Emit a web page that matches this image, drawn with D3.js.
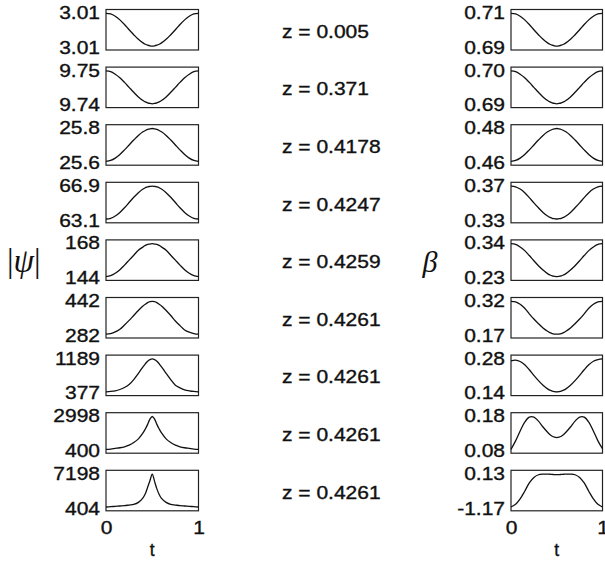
<!DOCTYPE html>
<html lang="en">
<head>
<meta charset="utf-8">
<title>|psi| and beta profiles</title>
<script src="https://cdn.jsdelivr.net/npm/d3@7"></script>
<style>
  body { margin: 0; background: #fff; }
  text { font-family: "Liberation Sans", Arial, Helvetica, sans-serif; fill: #111; }
  .sans { stroke: #111; stroke-width: 0.35px; }
</style>
</head>
<body>
<script>
// chart size
var w = 605, h = 563;

// sample points along t (shared by all curves)
var tGrid = [0, .05, .1, .15, .2, .25, .3, .35, .4, .425, .45, .475, .5,
             .525, .55, .575, .6, .65, .7, .75, .8, .85, .9, .95, 1];

// z value for each row
var zLabels = ["0.005", "0.371", "0.4178", "0.4247", "0.4259", "0.4261", "0.4261", "0.4261", "0.4261"];

// |psi| axis labels [top, bottom]
var psiTicks = [["3.01", "3.01"], ["9.75", "9.74"], ["25.8", "25.6"], ["66.9", "63.1"], ["168", "144"],
                ["442", "282"], ["1189", "377"], ["2998", "400"], ["7198", "404"]];

// beta axis labels [top, bottom]
var betaTicks = [["0.71", "0.69"], ["0.70", "0.69"], ["0.48", "0.46"], ["0.37", "0.33"], ["0.34", "0.23"],
                 ["0.32", "0.17"], ["0.28", "0.14"], ["0.18", "0.08"], ["0.13", "-1.17"]];

// |psi| profiles, as fraction between bottom label (0) and top label (1)
var psi1 = [1, .98, .91, .8, .66, .5, .35, .21, .1, .06, .03, .01, 0, .01, .03, .06, .1, .21, .35, .5, .66, .8, .91, .98, 1];
var psi2 = [1, .98, .9, .79, .65, .5, .35, .21, .1, .06, .03, .01, 0, .01, .03, .06, .1, .21, .35, .5, .65, .79, .9, .98, 1];
var psi3 = [0, .03, .1, .21, .35, .5, .65, .79, .9, .94, .97, .99, 1, .99, .97, .94, .9, .79, .65, .5, .35, .21, .1, .03, 0];
var psi4 = [0, .02, .09, .2, .34, .5, .66, .8, .91, .95, .98, .99, 1, .99, .98, .95, .91, .8, .66, .5, .34, .2, .09, .02, 0];
var psi5 = [0, .03, .1, .21, .35, .5, .65, .8, .9, .95, .98, .99, 1, .99, .98, .95, .9, .8, .65, .5, .35, .21, .1, .03, 0];
var psi6 = [0, .02, .07, .15, .28, .42, .57, .72, .86, .91, .96, .99, 1, .99, .96, .91, .86, .72, .57, .4, .26, .13, .06, .02, 0];
var psi7 = [0, .01, .03, .07, .13, .22, .37, .56, .76, .85, .93, .98, 1, .98, .93, .85, .76, .56, .37, .2, .12, .06, .03, .01, 0];
var psi8 = [0, .01, .03, .05, .08, .13, .21, .32, .5, .62, .76, .92, 1, .92, .76, .62, .5, .32, .21, .13, .08, .05, .03, .01, 0];
var psi9 = [0, .01, .02, .03, .04, .06, .08, .14, .28, .4, .6, .8, 1, .78, .55, .38, .26, .14, .08, .06, .04, .03, .02, .01, 0];

// beta profiles, same convention
var beta1 = [1, .98, .91, .8, .66, .5, .35, .21, .1, .06, .03, .01, 0, .01, .03, .06, .1, .21, .35, .5, .66, .8, .91, .98, 1];
var beta2 = [1, .98, .9, .79, .65, .5, .35, .21, .1, .06, .03, .01, 0, .01, .03, .06, .1, .21, .35, .5, .65, .79, .9, .98, 1];
var beta3 = [0, .03, .1, .21, .35, .5, .65, .79, .9, .94, .97, .99, 1, .99, .97, .94, .9, .79, .65, .5, .35, .21, .1, .03, 0];
var beta4 = [1, .98, .91, .8, .65, .49, .34, .2, .09, .05, .02, .01, 0, .01, .02, .05, .09, .2, .34, .49, .65, .8, .91, .98, 1];
var beta5 = [1, .98, .9, .79, .64, .48, .33, .2, .09, .05, .02, .01, 0, .01, .02, .05, .09, .2, .33, .48, .64, .79, .9, .98, 1];
var beta6 = [1, .98, .91, .79, .62, .46, .32, .19, .09, .05, .02, .005, 0, .005, .02, .05, .09, .19, .32, .46, .62, .79, .91, .98, 1];
var beta7 = [.94, .96, .92, .82, .67, .5, .34, .2, .09, .05, .02, .005, 0, .005, .02, .05, .09, .2, .34, .5, .67, .82, .93, .98, 1];
var beta8 = [0, .26, .56, .83, .98, .98, .86, .68, .52, .45, .4, .37, .36, .37, .4, .45, .52, .68, .86, .98, .98, .83, .56, .26, .02];
var beta9 = [0, .08, .25, .48, .73, .9, .98, 1, 1, .995, .99, .985, .985, .985, .99, .995, 1, 1, .98, .9, .73, .48, .25, .08, 0];

var psiRows = [psi1, psi2, psi3, psi4, psi5, psi6, psi7, psi8, psi9];
var betaRows = [beta1, beta2, beta3, beta4, beta5, beta6, beta7, beta8, beta9];

// layout
var rowTop = 9.5, rowStep = 57.6, panelH = 40.5, inset = 3.8;
var leftX = [106, 198.5], rightX = [511, 602.5];
var sx = 1.2; // the scan is a little wide, stretch text to match
var fs = "17.5px";

var svg = d3.select("body")
    .append("svg")
    .attr("width", w)
    .attr("height", h);

// draws one small panel: box, curve and the two end labels
function panel(xr, y0, values, ticks) {
    var x = d3.scaleLinear().domain([0, 1]).range(xr);
    var y = d3.scaleLinear().domain([0, 1]).range([y0 + panelH - inset, y0 + inset]);

    var g = svg.append("g");

    g.append("rect")
        .attr("x", xr[0])
        .attr("y", y0)
        .attr("width", xr[1] - xr[0])
        .attr("height", panelH)
        .attr("fill", "none")
        .attr("stroke", "#222")
        .attr("stroke-width", 1.2);

    var line = d3.line()
        .x(function(d, i) { return x(tGrid[i]); })
        .y(function(d) { return y(d); })
        .curve(d3.curveCatmullRom);

    g.append("path")
        .attr("d", line(values))
        .attr("fill", "none")
        .attr("stroke", "#111")
        .attr("stroke-width", 1.3);

    var ax = g.append("g")
        .attr("transform", "translate(" + xr[0] + ",0)")
        .call(d3.axisLeft(y).tickValues([1, 0]).tickSize(0).tickPadding(5)
            .tickFormat(function(d) { return d === 1 ? ticks[0] : ticks[1]; }));
    ax.select(".domain").remove();
    ax.selectAll("text")
        .attr("class", "sans")
        .style("font-size", fs)
        .style("font-family", "Liberation Sans, Arial, sans-serif")
        .attr("fill", "#111")
        .attr("dy", function(d) { return d === 1 ? "0.3em" : "0.4em"; })
        .attr("transform", "scale(" + sx + ",1)");

    return x;
}

var lastLeft, lastRight;
for (var i = 0; i < 9; i++) {
    var rowY = rowTop + i * rowStep;
    lastLeft = panel(leftX, rowY, psiRows[i], psiTicks[i]);
    lastRight = panel(rightX, rowY, betaRows[i], betaTicks[i]);

    svg.append("text")
        .attr("class", "sans")
        .attr("transform", "translate(282," + (rowY + panelH / 2 + 8) + ") scale(" + sx + ",1)")
        .style("font-size", fs)
        .text("z = " + zLabels[i]);
}

// bottom t axes
var bottom = rowTop + 8 * rowStep + panelH;
[lastLeft, lastRight].forEach(function(x) {
    var ax = svg.append("g")
        .attr("transform", "translate(0," + (bottom + 11) + ")")
        .call(d3.axisBottom(x).tickValues([0, 1]).tickSize(0).tickPadding(0).tickFormat(d3.format("d")));
    ax.select(".domain").remove();
    ax.selectAll("text")
        .attr("class", "sans")
        .style("font-size", fs)
        .style("font-family", "Liberation Sans, Arial, sans-serif")
        .attr("fill", "#111")
        .attr("transform", "scale(" + sx + ",1)");

    svg.append("text")
        .attr("class", "sans")
        .attr("x", x(0.5))
        .attr("y", 555.5)
        .attr("text-anchor", "middle")
        .style("font-size", fs)
        .text("t");
});

// |psi| and beta labels
var psiLab = svg.append("text")
    .attr("x", 7)
    .attr("y", 272)
    .style("font-family", "Liberation Serif, Times New Roman, serif")
    .style("font-size", "33px");
psiLab.append("tspan").text("|");
psiLab.append("tspan").attr("font-style", "italic").text("\u03c8");
psiLab.append("tspan").text("|");

svg.append("text")
    .attr("x", 430)
    .attr("y", 272)
    .attr("text-anchor", "middle")
    .style("font-family", "Liberation Serif, Times New Roman, serif")
    .style("font-style", "italic")
    .style("font-size", "30px")
    .text("\u03b2");
</script>
</body>
</html>
